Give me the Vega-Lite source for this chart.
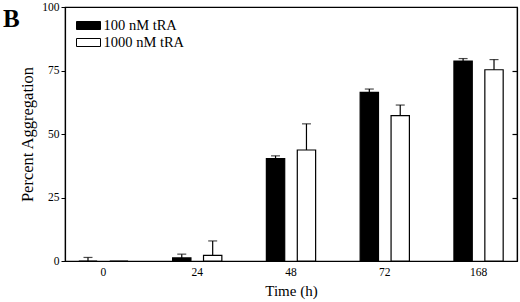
{
  "$schema": "https://vega.github.io/schema/vega-lite/v6.json",
  "width": 520,
  "height": 302,
  "autosize": {"type": "fit", "contains": "padding"},
  "padding": {"left": 3, "top": 1, "right": 2, "bottom": 3},
  "background": "white",
  "config": {
    "font": "Liberation Serif",
    "view": {"stroke": "black", "strokeWidth": 1.2},
    "axis": {"labelFont": "Liberation Serif", "titleFont": "Liberation Serif", "labelColor": "black", "titleColor": "black", "domainColor": "black", "tickColor": "black", "titleFontWeight": "normal"}
  },
  "title": {
    "text": "B",
    "orient": "left",
    "angle": 0,
    "anchor": "end",
    "align": "left",
    "baseline": "top",
    "fontSize": 25,
    "fontWeight": "bold",
    "font": "Liberation Serif",
    "color": "black",
    "offset": 0,
    "dy": 6
  },
  "data": {
    "values": [
      {"time": 0, "conc": "100 nM tRA", "value": 0, "hi": 1.4},
      {"time": 0, "conc": "1000 nM tRA", "value": 0, "hi": null},
      {"time": 24, "conc": "100 nM tRA", "value": 1.2, "hi": 2.7},
      {"time": 24, "conc": "1000 nM tRA", "value": 2.2, "hi": 7.9},
      {"time": 48, "conc": "100 nM tRA", "value": 40.3, "hi": 41.4},
      {"time": 48, "conc": "1000 nM tRA", "value": 43.7, "hi": 54.0},
      {"time": 72, "conc": "100 nM tRA", "value": 66.4, "hi": 67.7},
      {"time": 72, "conc": "1000 nM tRA", "value": 57.2, "hi": 61.4},
      {"time": 168, "conc": "100 nM tRA", "value": 78.7, "hi": 79.7},
      {"time": 168, "conc": "1000 nM tRA", "value": 75.3, "hi": 79.3}
    ]
  },
  "encoding": {
    "x": {
      "field": "time",
      "type": "ordinal",
      "scale": {"paddingInner": 0.18, "paddingOuter": 0},
      "axis": {"title": "Time (h)", "labelAngle": 0, "ticks": false, "labelFontSize": 11.5, "labelPadding": 5, "titleFontSize": 15, "titlePadding": 6, "domainWidth": 1.2}
    },
    "xOffset": {
      "field": "conc",
      "type": "nominal",
      "scale": {"paddingInner": 0.407, "paddingOuter": 0.447}
    }
  },
  "layer": [
    {
      "mark": {"type": "bar", "stroke": "black", "strokeWidth": 1.2},
      "encoding": {
        "y": {
          "field": "value",
          "type": "quantitative",
          "scale": {"domain": [0, 100], "nice": false},
          "axis": {"title": "Percent Aggregation", "values": [0, 25, 50, 75, 100], "grid": false, "tickSize": 4, "labelFontSize": 11.5, "labelPadding": 2, "titleFontSize": 16.5, "titlePadding": 6, "domainWidth": 1.2}
        },
        "fill": {
          "field": "conc",
          "type": "nominal",
          "scale": {"range": ["black", "white"]},
          "legend": {
            "title": null,
            "orient": "none",
            "legendX": 15,
            "legendY": 10,
            "padding": 0,
            "symbolType": "M-1.5,-0.5H1.5V0.5H-1.5Z",
            "symbolSize": 256,
            "symbolStrokeColor": "black",
            "symbolStrokeWidth": 1,
            "labelFontSize": 14.5,
            "labelFont": "Liberation Serif",
            "labelColor": "black",
            "labelOffset": 6.5,
            "rowPadding": 2
          }
        }
      }
    },
    {
      "layer": [
        {
          "mark": {"type": "rule", "color": "black", "strokeWidth": 1.2},
          "encoding": {
            "y": {
              "field": "value",
              "type": "quantitative",
              "scale": {"domain": [0, 100], "nice": false},
              "axis": {"orient": "right", "title": "", "labels": false, "values": [25, 50, 75], "grid": false, "ticks": true, "tickSize": -5, "tickWidth": 1.2, "domain": true, "domainWidth": 1.2}
            },
            "y2": {"field": "hi"}
          }
        },
        {
          "mark": {"type": "tick", "color": "black", "thickness": 1.2, "size": 9},
          "encoding": {
            "y": {"field": "hi", "type": "quantitative"}
          }
        }
      ]
    }
  ],
  "resolve": {"scale": {"y": "independent"}}
}
